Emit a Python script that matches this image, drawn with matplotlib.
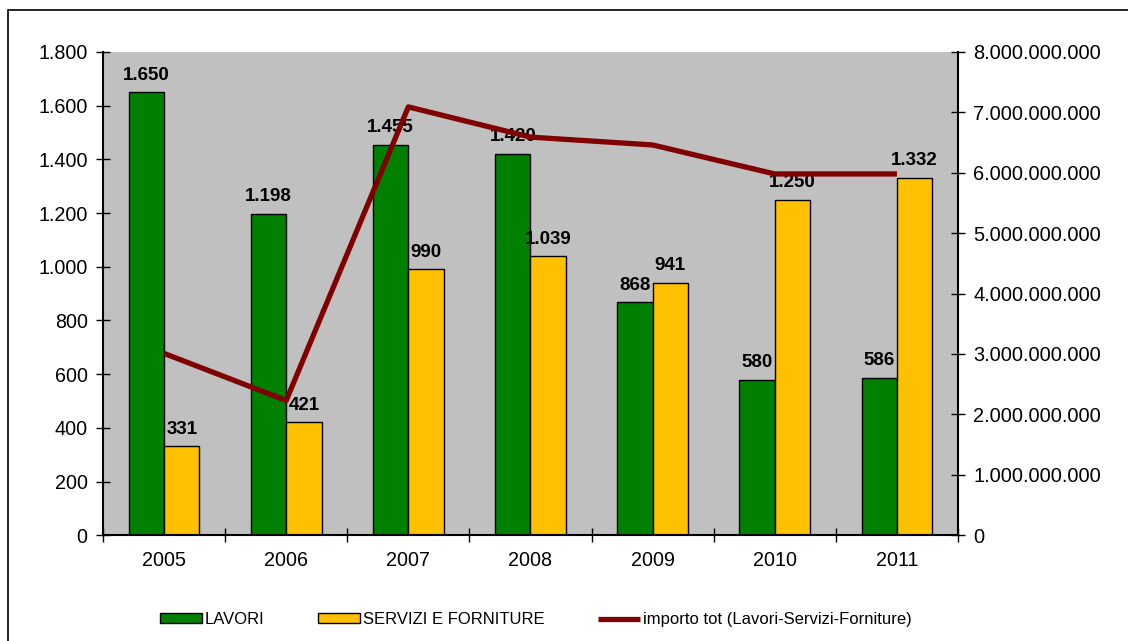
import numpy as np
import matplotlib.pyplot as plt
from matplotlib.ticker import FuncFormatter, FixedLocator

years = ["2005", "2006", "2007", "2008", "2009", "2010", "2011"]
lavori = [1650, 1198, 1455, 1420, 868, 580, 586]
servizi = [331, 421, 990, 1039, 941, 1250, 1332]
importo = [3.01e9, 2.23e9, 7.09e9, 6.59e9, 6.46e9, 5.98e9, 5.98e9]

plt.rcParams["font.family"] = ["Liberation Sans", "DejaVu Sans"]

def dots(v, pos=None):
    return f"{int(round(v)):,}".replace(",", ".")

fig = plt.figure(figsize=(11.28, 6.41), dpi=100)
# cornice esterna
fig.patches.append(plt.Rectangle((0.007, -0.02), 1.1, 1.004, transform=fig.transFigure,
                                 fill=False, edgecolor="black", linewidth=1.2))
ax = fig.add_axes([0.0913, 0.165, 0.758, 0.754])
ax.set_facecolor("#c0c0c0")

x = np.arange(len(years))
w = 0.29
ax.bar(x - w / 2, lavori, w, color="#008000", edgecolor="black", linewidth=1, label="LAVORI", zorder=2)
ax.bar(x + w / 2, servizi, w, color="#ffc000", edgecolor="black", linewidth=1,
       label="SERVIZI E FORNITURE", zorder=2)

for i in range(len(years)):
    ax.text(x[i] - w / 2, lavori[i] + 32, dots(lavori[i]), ha="center", va="bottom",
            fontsize=13.5, fontweight="bold", zorder=5)
    ax.text(x[i] + w / 2, servizi[i] + 32, dots(servizi[i]), ha="center", va="bottom",
            fontsize=13.5, fontweight="bold", zorder=5)

ax.set_xlim(-0.5, len(years) - 0.5)
ax.set_ylim(0, 1800)
ax.set_yticks(range(0, 1801, 200))
ax.yaxis.set_major_formatter(FuncFormatter(dots))
ax.xaxis.set_major_locator(FixedLocator(np.arange(-0.5, len(years), 1)))
ax.xaxis.set_major_formatter(FuncFormatter(lambda v, p: ""))
ax.set_xticks(x, minor=True)
ax.set_xticklabels(years, minor=True)
ax.tick_params(axis="x", which="minor", length=0, pad=11, labelsize=14.2)
ax.tick_params(axis="x", which="major", direction="inout", length=10, width=1)
ax.tick_params(axis="y", direction="inout", length=10, width=1, labelsize=14.2, pad=6)
for s in ["top", "right"]:
    ax.spines[s].set_visible(False)
ax.spines["left"].set_linewidth(1.5)
ax.spines["bottom"].set_linewidth(1.5)

ax2 = ax.twinx()
ax2.plot(x, importo, color="#800000", linewidth=3.8, solid_capstyle="butt",
         label="importo tot (Lavori-Servizi-Forniture)", zorder=3)
ax2.set_ylim(0, 8e9)
ax2.set_yticks(np.arange(0, 8.1e9, 1e9))
ax2.yaxis.set_major_formatter(FuncFormatter(dots))
ax2.tick_params(axis="y", direction="inout", length=10, width=1, labelsize=14.4, pad=6)
for s in ["top", "left", "bottom"]:
    ax2.spines[s].set_visible(False)
ax2.spines["right"].set_linewidth(1.5)

h1, l1 = ax.get_legend_handles_labels()
h2, l2 = ax2.get_legend_handles_labels()
fig.legend(h1 + h2, l1 + l2, loc="center", bbox_to_anchor=(0.475, 0.033), ncol=3,
           frameon=False, fontsize=12, handlelength=2.5, handleheight=0.55,
           handletextpad=0.2, columnspacing=3.2)

fig.savefig("out.png", dpi=100)
